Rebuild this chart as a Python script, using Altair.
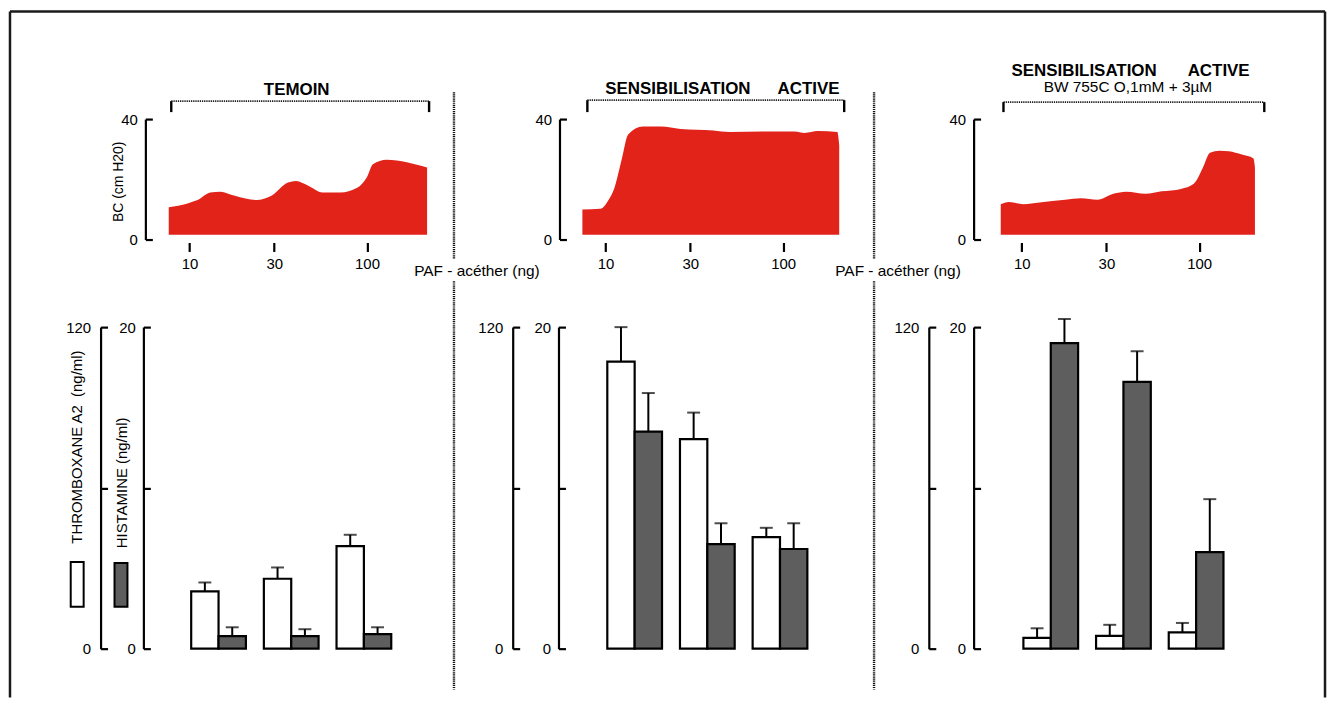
import altair as alt
import pandas as pd

FONT = "Liberation Sans"
RED = "#e2231a"
HATCH = "#5e5e5e"

# ---------------- values ----------------
# Top traces: bronchoconstriction BC (cm H2O) along the PAF-acether dose axis (ng)
TEMOIN_DOSE = [7.64, 9.75, 11.1, 13.1, 14.9, 18.0, 23.9, 28.9, 35.9, 39.8, 46.4, 56.2, 70.8, 88.0, 100, 108, 129, 218]
TEMOIN_BC = [10.7, 12.0, 13.1, 15.6, 15.9, 14.5, 13.1, 14.5, 18.9, 19.4, 17.9, 15.6, 15.6, 17.2, 20.8, 25.0, 26.5, 23.9]
SENS_DOSE = [7.4, 9.35, 10.2, 11.3, 12.3, 13.4, 16.2, 20.5, 26.4, 40.4, 49.9, 76.2, 116, 132, 157, 202, 207]
SENS_BC = [10.0, 10.2, 12.4, 17.8, 26.4, 34.9, 37.5, 37.5, 36.7, 36.2, 35.7, 35.9, 35.9, 35.4, 36.0, 35.7, 31.3]
BW_DOSE = [7.62, 8.47, 10.2, 12.6, 17.6, 21.6, 26.7, 32.8, 38.8, 49.9, 61.4, 78.9, 93.2, 105, 115, 130, 147, 174, 202, 206]
BW_BC = [11.7, 12.5, 11.7, 12.3, 13.2, 13.7, 13.2, 15.2, 15.9, 15.2, 16.0, 16.8, 18.5, 23.9, 28.8, 29.5, 29.3, 28.2, 26.9, 23.9]

DOSE_TICKS = [10, 30, 100]
BC_RANGE = [0, 40]

# Bottom bars: thromboxane A2 (ng/ml, 0-120) and histamine (ng/ml, 0-20), mean and error
DOSES = ["10", "30", "100"]
SUBSTANCES = ["TXA2", "HIS"]
TXA_RANGE = [0, 120]
HIS_RANGE = [0, 20]
TXA_TICKS = [0, 60, 120]
HIS_TICKS = [0, 10, 20]

TXA_1 = [21.4, 26.1, 38.3]
TXA_1_ERR = [3.3, 4.2, 4.2]
HIS_1 = [0.78, 0.78, 0.9]
HIS_1_ERR = [0.55, 0.43, 0.43]

TXA_2 = [107.1, 78.2, 41.6]
TXA_2_ERR = [12.9, 9.9, 3.5]
HIS_2 = [13.5, 6.5, 6.2]
HIS_2_ERR = [2.4, 1.3, 1.6]

TXA_3 = [4.0, 4.8, 6.1]
TXA_3_ERR = [3.6, 4.1, 3.5]
HIS_3 = [19.0, 16.6, 6.0]
HIS_3_ERR = [1.5, 1.9, 3.3]

# ---------------- layout constants ----------------
W = 262
TOP_H = 121
BOT_H = 323
X_DOMAIN = [7.4, 218]
BASELINE = 1.6

ONE = alt.Data(values=[{"one": 1}])


def deco_rule(x1, y1, x2=None, y2=None, width=2.0, dash=None, color="black"):
    props = dict(color=color, strokeWidth=width)
    if dash is not None:
        props["strokeDash"] = dash
    enc = dict(x=alt.value(x1), y=alt.value(y1))
    if x2 is not None:
        enc["x2"] = alt.value(x2)
    if y2 is not None:
        enc["y2"] = alt.value(y2)
    return alt.Chart(ONE).mark_rule(**props).encode(**enc)


def deco_text(text, x, y, size, weight="normal", align="left", angle=0, baseline="alphabetic"):
    return alt.Chart(ONE).mark_text(
        text=text, font=FONT, fontSize=size, fontWeight=weight, align=align,
        baseline=baseline, angle=angle, color="black"
    ).encode(x=alt.value(x), y=alt.value(y))


def deco_rect(x1, x2, y1, y2, fill):
    return alt.Chart(ONE).mark_rect(fill=fill, stroke="black", strokeWidth=2).encode(
        x=alt.value(x1), x2=alt.value(x2), y=alt.value(y1), y2=alt.value(y2))


def bracket(x1, x2, y, yend):
    return [
        deco_rule(x1, y, x2=x2, width=1.8, dash=[1.3, 0.9], color="#1e1e1e"),
        deco_rule(x1, y, y2=yend, width=2.4),
        deco_rule(x2, y, y2=yend, width=2.4),
    ]


def separator(x):
    return [
        deco_rule(x, -27, y2=141, width=2.4, dash=[1.2, 0.9], color="#111111"),
        deco_rule(x, 163, y2=573, width=2.4, dash=[1.2, 0.9], color="#111111"),
    ]


def bracket_axis(off, ticks):
    return alt.Axis(orient="right", offset=-(W + off), values=ticks, labels=False,
                    tickSize=7, tickWidth=2.2, tickColor="black", domainWidth=2.2,
                    domainColor="black", title=None, grid=False)


def label_axis(off, vals, pad):
    return alt.Axis(orient="left", offset=off, values=vals, ticks=False, tickSize=0,
                    domain=False, labelPadding=pad, labelFontSize=15, labelColor="black",
                    labelFont=FONT, title=None, grid=False)


def top_panel(doses, bc, axis_off, extra):
    df = pd.DataFrame({"dose": doses, "bc": bc})
    x = alt.X("dose:Q", scale=alt.Scale(type="log", domain=X_DOMAIN, nice=False),
              axis=alt.Axis(values=DOSE_TICKS, format="d", domain=False, tickSize=9,
                            tickWidth=2.2, tickColor="black", offset=3, labelPadding=5,
                            labelFontSize=15, labelColor="black", labelFont=FONT,
                            title=None, grid=False))
    ysc = alt.Scale(domain=BC_RANGE, nice=False)
    area = alt.Chart(df).mark_area(color=RED, interpolate="monotone").encode(
        x=x,
        y=alt.Y("bc:Q", scale=ysc, axis=bracket_axis(axis_off, BC_RANGE)),
        y2=alt.datum(BASELINE),
    )
    labels = alt.Chart(df).mark_point(opacity=0).encode(
        x=x, y=alt.Y("bc:Q", scale=ysc, axis=label_axis(axis_off, BC_RANGE, 8)))
    return alt.layer(area, labels, *extra).properties(width=W, height=TOP_H)


def bottom_panel(txa, txa_err, his, his_err, txa_off, his_off, extra):
    dt = pd.DataFrame({"dose": DOSES, "sub": "TXA2", "v": txa,
                       "top": [v + e for v, e in zip(txa, txa_err)]})
    dh = pd.DataFrame({"dose": DOSES, "sub": "HIS", "v": his,
                       "top": [v + e for v, e in zip(his, his_err)]})
    x = alt.X("dose:N", axis=None, sort=DOSES,
              scale=alt.Scale(domain=DOSES, paddingInner=0.247, paddingOuter=0.418, align=0.41))
    xo = alt.XOffset("sub:N", sort=SUBSTANCES,
                     scale=alt.Scale(domain=SUBSTANCES, paddingInner=0, paddingOuter=0))
    ts = alt.Scale(domain=TXA_RANGE, nice=False)
    hs = alt.Scale(domain=HIS_RANGE, nice=False)
    layers = [
        alt.Chart(dt).mark_bar(fill="white", stroke="black", strokeWidth=2.2).encode(
            x=x, xOffset=xo, y=alt.Y("v:Q", scale=ts, axis=bracket_axis(txa_off, TXA_TICKS))),
        alt.Chart(dt).mark_rule(color="black", strokeWidth=2).encode(
            x=x, xOffset=xo, y=alt.Y("v:Q", scale=ts, axis=label_axis(txa_off, TXA_RANGE, 10)),
            y2="top:Q"),
        alt.Chart(dt).mark_tick(color="black", thickness=2, size=13).encode(
            x=x, xOffset=xo, y=alt.Y("top:Q", scale=ts, axis=None)),
        alt.Chart(dh).mark_bar(fill=HATCH, stroke="black", strokeWidth=2.2).encode(
            x=x, xOffset=xo, y=alt.Y("v:Q", scale=hs, axis=bracket_axis(his_off, HIS_TICKS))),
        alt.Chart(dh).mark_rule(color="black", strokeWidth=2).encode(
            x=x, xOffset=xo, y=alt.Y("v:Q", scale=hs, axis=label_axis(his_off, HIS_RANGE, 8)),
            y2="top:Q"),
        alt.Chart(dh).mark_tick(color="black", thickness=2, size=13).encode(
            x=x, xOffset=xo, y=alt.Y("top:Q", scale=hs, axis=None)),
    ]
    return alt.layer(*layers, *extra).resolve_scale(y="independent").properties(
        width=W, height=BOT_H)


PAF = "PAF - acéther (ng)"

t1_extra = [
    # outer frame
    deco_rule(-157, -108, x2=1164, color="#1a1a1a", width=2.5),
    deco_rule(-157, -108, y2=581, color="#1a1a1a", width=2.5),
    deco_rule(1164, -108, y2=581, color="#1a1a1a", width=2.5),
    *bracket(5, 264, -18, -7),
    deco_text("TEMOIN", 131, -24, 17, "bold", align="center"),
    deco_text("BC (cm H20)", -47.5, 63, 14, align="center", angle=270, baseline="middle"),
    deco_text(PAF, 249, 158, 15.5),
]
t2_extra = [
    *separator(-129),
    *bracket(5, 263, -19, -7),
    deco_text("SENSIBILISATION", 23, -25, 17, "bold"),
    deco_text("ACTIVE", 196, -25, 17, "bold"),
    deco_text(PAF, 254, 158, 15.5),
]
t3_extra = [
    *separator(-125),
    *bracket(5, 267, -17, -7),
    deco_text("SENSIBILISATION", 13, -43, 17, "bold"),
    deco_text("ACTIVE", 190, -43, 17, "bold"),
    deco_text("BW 755C O,1mM + 3µM", 130, -27, 15.5, align="center"),
]
b1_extra = [
    deco_text("THROMBOXANE A2\u00a0\u00a0(ng/ml)", -90, 120.5, 15, align="center", angle=270,
              baseline="middle"),
    deco_text("HISTAMINE (ng/ml)", -44.5, 156.5, 15, align="center", angle=270,
              baseline="middle"),
    deco_rect(-96, -83, 236, 281, "white"),
    deco_rect(-52, -39, 237, 281, HATCH),
]

t1 = top_panel(TEMOIN_DOSE, TEMOIN_BC, 21, t1_extra)
t2 = top_panel(SENS_DOSE, SENS_BC, 23, t2_extra)
t3 = top_panel(BW_DOSE, BW_BC, 25, t3_extra)
b1 = bottom_panel(TXA_1, TXA_1_ERR, HIS_1, HIS_1_ERR, 66, 23, b1_extra)
b2 = bottom_panel(TXA_2, TXA_2_ERR, HIS_2, HIS_2_ERR, 70, 24, [])
b3 = bottom_panel(TXA_3, TXA_3_ERR, HIS_3, HIS_3_ERR, 70, 25, [])

chart = alt.concat(
    t1, t2, t3, b1, b2, b3,
    columns=3, spacing={"row": 88, "column": 156}, bounds="flush",
).properties(padding=0, background="white").configure(font=FONT).configure_view(
    strokeWidth=0
).configure_axis(grid=False, labelFont=FONT, labelColor="black")

chart.save("out.html", embed_options={"renderer": "svg", "actions": False})
